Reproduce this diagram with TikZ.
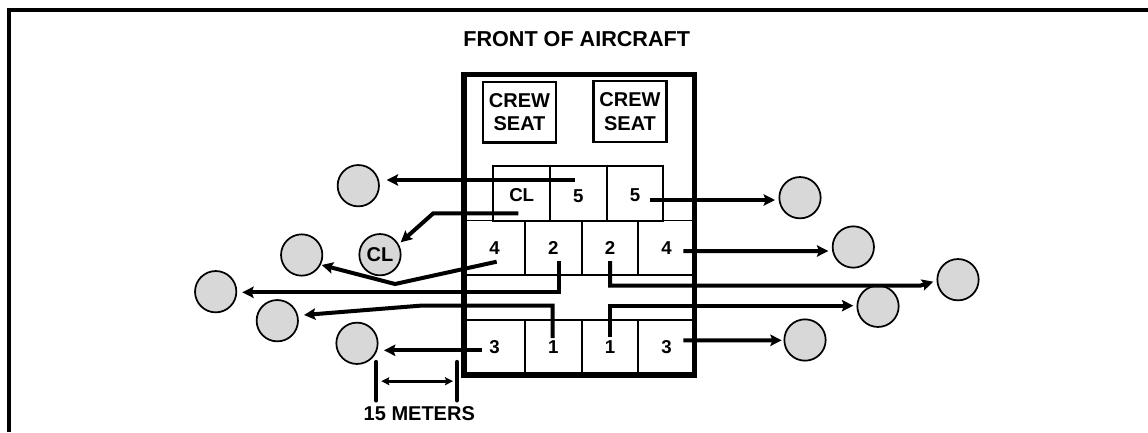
\documentclass[tikz,border=0pt]{standalone}
\usepackage{fontspec}
\setmainfont{Liberation Sans}
\usetikzlibrary{arrows.meta}
\definecolor{crewgray}{HTML}{D8D8D8}

\begin{document}
\begin{tikzpicture}[
  x=0.75pt, y=-0.75pt,
  caption/.style={font=\fontsize{15}{17.5}\selectfont\bfseries, inner sep=0pt, align=center},
  seatbox/.style={draw, caption, line width=1.9pt, minimum width=54.5pt, minimum height=45.5pt},
  cell/.style={draw, line width=1.4pt, minimum width=42.5pt, minimum height=41pt, inner sep=0pt, font=\fontsize{14}{16}\selectfont\bfseries},
  firstcell/.style={cell, minimum width=45.75pt},
  crew/.style={circle, draw, fill=crewgray, line width=1.3pt, minimum size=31pt, inner sep=0pt, font=\fontsize{15}{17}\selectfont\bfseries},
  flow/.style={-{Stealth[length=8.5pt,width=8.5pt,inset=1.5pt]}, line width=3pt},
  dimline/.style={line width=3pt, line cap=round}
]
\useasboundingbox (0,0) rectangle (1148,432);
\draw[line width=3pt] (9,432) -- (9,10) -- (1148,10);

\node[caption, font=\fontsize{16.2}{18}\selectfont\bfseries] (front) at (576.7,39) {FRONT OF AIRCRAFT};

% cells, row by row
\node[cell, text height=12pt] (cl) at (521.7,193.3) {CL};
\node[cell, text height=14pt] (fivea) at (578.3,193.3) {5};
\node[cell, text height=12pt] (fiveb) at (635,193.3) {5};
\node[firstcell] (foura) at (494.5,247.8) {4};
\node[cell] (twoa) at (553.3,247.8) {2};
\node[cell] (twob) at (610,247.8) {2};
\node[cell] (fourb) at (666.6,247.8) {4};
\node[firstcell] (threea) at (494.5,347.5) {3};
\node[cell] (onea) at (553.3,347.5) {1};
\node[cell] (oneb) at (610,347.5) {1};
\node[cell] (threeb) at (666.6,347.5) {3};

\node[draw, line width=4pt, minimum width=173pt, minimum height=225.5pt] (cabin) at (579.4,224.6) {};
\node[seatbox] (seata) at (519.5,112.2) {CREW\\SEAT};
\node[seatbox] (seatb) at (630,111.5) {CREW\\SEAT};

% crew after leaving the aircraft
\node[crew] (pfivea) at (358.3,185.7) {};
\node[crew] (pcl) at (380,254.7) {CL};
\node[crew] (pfoura) at (301.7,255) {};
\node[crew] (ptwoa) at (215.7,291.7) {};
\node[crew] (ponea) at (277.3,320.7) {};
\node[crew] (pthreea) at (357,343.3) {};
\node[crew] (pfiveb) at (800,197.7) {};
\node[crew] (pfourb) at (853.3,247) {};
\node[crew] (ptwob) at (958,279.7) {};
\node[crew] (poneb) at (878,306.3) {};
\node[crew] (pthreeb) at (805,340) {};

\coordinate (clbend) at (433.3,213.3);
\coordinate (fourbend) at (395,284);
\coordinate (onebend) at (420,305.7);
\coordinate (twobend) at (920,285.7);

\draw[flow] ([shift={(-3.3,-13.3)}]fivea.center) -- ([shift={(28.4,-5.7)}]pfivea.center);
\draw[flow] ([shift={(-3.4,20)}]cl.center) -- (clbend) -- ([shift={(20.7,-12.4)}]pcl.center);
\draw[flow] ([shift={(2.2,13.9)}]foura.center) -- (fourbend) -- ([shift={(20,10)}]pfoura.center);
\draw[flow] ([shift={(5.7,13.2)}]twoa.center) |- ([shift={(26.6,.6)}]ptwoa.center);
\draw[flow] ([shift={(-.6,-9.5)}]onea.center) |- (onebend) -- ([shift={(26.7,-5.7)}]ponea.center);
\draw[flow] ([shift={(-12.8,2.8)}]threea.center) -- ([shift={(27,7)}]pthreea.center);
\draw[flow] ([shift={(15,6.7)}]fiveb.center) -- ([shift={(-25,2.3)}]pfiveb.center);
\draw[flow] ([shift={(16.7,3.2)}]fourb.center) -- ([shift={(-25,4)}]pfourb.center);
\draw[flow] ([shift={(0,13.2)}]twob.center) |- (twobend) -- ([shift={(-24.7,2)}]ptwob.center);
\draw[flow] ([shift={(0,-10.8)}]oneb.center) |- ([shift={(-24.7,-.6)}]poneb.center);
\draw[flow] ([shift={(16.7,-7.2)}]threeb.center) -- ([shift={(-23.3,.3)}]pthreeb.center);

% 15 m spacing
\coordinate (dimleft) at (376.3,381.2);
\coordinate (dimright) at (457,381.2);
\draw[dimline] ([yshift=14.5pt]dimleft) -- ([yshift=-14.5pt]dimleft);
\draw[dimline] ([yshift=14.5pt]dimright) -- ([yshift=-14.5pt]dimright);
\draw[{Stealth[length=6pt,width=6pt,inset=1pt]}-{Stealth[length=6pt,width=6pt,inset=1pt]}, line width=2pt, shorten <=3.75pt, shorten >=3pt] (dimleft) -- (dimright);
\node[caption] (dimtext) at (419.3,414) {15 METERS};
\end{tikzpicture}
\end{document}
